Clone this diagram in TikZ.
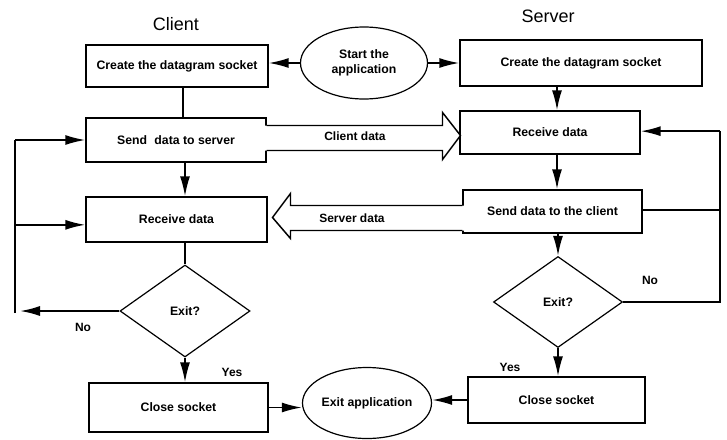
\documentclass[tikz,border=0pt]{standalone}
\usepackage{fontspec}
\setmainfont{Liberation Sans}
\usetikzlibrary{shapes.geometric,arrows.meta,calc}

\begin{document}
\begin{tikzpicture}[x=0.75pt,y=-0.75pt,
  box/.style={draw,line width=0.9pt,inner sep=2pt,font=\bfseries\fontsize{9.2}{11}\selectfont},
  oval/.style={draw,ellipse,line width=0.9pt,inner sep=0pt,align=center,font=\bfseries\fontsize{9.2}{11}\selectfont},
  decision/.style={draw,diamond,line width=0.9pt,inner sep=0pt,font=\bfseries\fontsize{9.2}{11}\selectfont},
  conn/.style={line width=1.4pt},
  arr/.style={line width=1.4pt,-{Latex[length=15pt,width=7.5pt]}},
  bigarrow/.style={line width=1.1pt,line join=miter},
  lbl/.style={font=\bfseries\fontsize{9}{11}\selectfont},
  title/.style={font=\fontsize{13.5}{16}\selectfont}]

\useasboundingbox (0,0) rectangle (727,439);

% column titles
\node[title] (tclient) at (176,24) {Client};
\node[title] (tserver) at (548,16) {Server};

% client column
\node[box,minimum width=136.5pt,minimum height=31.5pt] (ccreate) at (177,66) {Create the datagram socket};
\node[box,minimum width=135pt,minimum height=33pt] (csend) at (176,140) {Send\hspace{0.6em}data to server};
\node[box,minimum width=135.75pt,minimum height=33.75pt] (crecv) at (176.5,219.5) {Receive data};
\node[decision,minimum width=97.5pt,minimum height=69pt] (cdia) at (185,311) {Exit?};
\node[box,minimum width=134.25pt,minimum height=36.75pt] (cclose) at (178.5,407.5) {Close socket};

% server column
\node[box,minimum width=181.5pt,minimum height=34.5pt] (screate) at (581,63) {Create the datagram socket};
\node[box,minimum width=135pt,minimum height=32.25pt] (srecv) at (550,132.5) {Receive data};
\node[box,minimum width=134.25pt,minimum height=32.25pt] (ssend) at (552.5,211.5) {Send data to the client};
\node[decision,minimum width=96.75pt,minimum height=68.25pt] (sdia) at (558,302) {Exit?};
\node[box,minimum width=132.75pt,minimum height=34.5pt] (sclose) at (556.5,400) {Close socket};

% start and end
\node[oval,minimum width=95.25pt,minimum height=54pt] (start) at (364,63) {Start the\\application};
\node[oval,minimum width=96.75pt,minimum height=53.25pt] (exit) at (367,403) {Exit application};

% guide coordinates for the vertical runs and loops
\coordinate (cx) at (183,0);
\coordinate (sx) at (557,0);
\coordinate (lx) at (15,0);
\coordinate (rx) at (720,0);
\coordinate (lbot) at (15,313);
\coordinate (cno) at (20,0);

% start of the application
\draw[arr] (start.west) -- (start.west -| ccreate.east);
\draw[arr] (start.east) -- (start.east -| screate.west);

% client flow
\draw[conn] (ccreate.south -| cx) -- (csend.north -| cx);
\draw[arr] (csend.south -| cdia) -- (crecv.north -| cdia);
\draw[conn] (crecv.south -| cdia) -- (cdia.north);
\draw[arr] (cdia.south) -- (cclose.north -| cdia.south);
\draw[arr] (cdia.west) -- (cdia.west -| cno);
\draw[conn] (lbot) -- (csend.west -| lx);
\draw[arr] (csend.west -| lx) -- (csend.west);
\draw[arr] ([yshift=-4pt]crecv.west -| lx) -- ([yshift=-4pt]crecv.west);
\node[lbl] (cnolbl) at (83,327) {No};
\node[lbl] (cyeslbl) at (232,372) {Yes};

% server flow
\draw[arr] (screate.south -| sx) -- (srecv.north -| sx);
\draw[arr] (srecv.south -| sx) -- (ssend.north -| sx);
\draw[arr] (ssend.south -| sdia) -- (sdia.north);
\draw[arr] (sdia.south) -- (sclose.north -| sdia.south);
\draw[conn] (sdia.east) -- (sdia.east -| rx) -- ([yshift=1pt]srecv.east -| rx);
\draw[arr] ([yshift=1pt]srecv.east -| rx) -- ([yshift=1pt]srecv.east);
\draw[conn] ([yshift=1pt]ssend.east) -- ([yshift=1pt]ssend.east -| rx);
\node[lbl] (snolbl) at (650,280) {No};
\node[lbl] (syeslbl) at (510,367) {Yes};

% closing
\draw[arr] (cclose.east) -- (cclose.east -| exit.west);
\draw[arr] (sclose.west) -- (sclose.west -| exit.east);

% data transfer arrows, opening out of the boxes
\fill[white] ([xshift=-2pt]csend.east |- 0,125.5) -- (442.5,125.5) -- (442.5,112.5) -- (460.5,135.5)
  -- (442.5,159.5) -- (442.5,150.5) -- ([xshift=-2pt]csend.east |- 0,150.5) -- cycle;
\draw[bigarrow] (csend.east |- 0,125.5) -- (442.5,125.5) -- (442.5,112.5) -- (460.5,135.5)
  -- (442.5,159.5) -- (442.5,150.5) -- (csend.east |- 0,150.5);
\node[font=\bfseries\fontsize{9}{11}\selectfont] (cdata) at (355,136) {Client data};

\fill[white] ([xshift=2pt]ssend.west |- 0,205.5) -- (290.5,205.5) -- (290.5,193.5) -- (272.5,217.5)
  -- (290.5,238.5) -- (290.5,230.5) -- ([xshift=2pt]ssend.west |- 0,230.5) -- cycle;
\draw[bigarrow] (ssend.west |- 0,205.5) -- (290.5,205.5) -- (290.5,193.5) -- (272.5,217.5)
  -- (290.5,238.5) -- (290.5,230.5) -- (ssend.west |- 0,230.5);
\node[font=\bfseries\fontsize{9}{11}\selectfont] (sdata) at (352,218) {Server data};

\end{tikzpicture}
\end{document}
